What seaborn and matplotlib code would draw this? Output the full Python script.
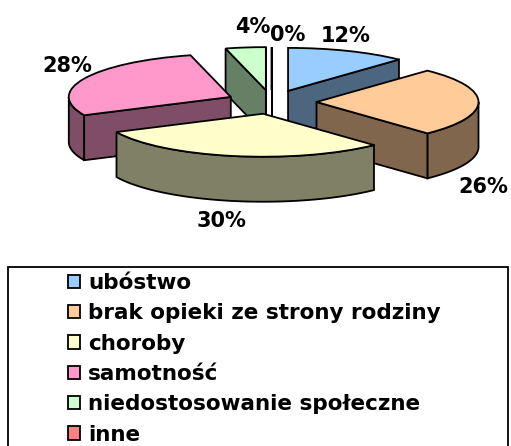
import numpy as np
import matplotlib
matplotlib.use("Agg")
import matplotlib.pyplot as plt
from matplotlib.patches import Polygon, Rectangle
import seaborn as sns

# Przyczyny trudnej sytuacji (udział procentowy)
categories = ["ubóstwo", "brak opieki ze strony rodziny", "choroby",
              "samotność", "niedostosowanie społeczne", "inne"]
values = [12, 26, 30, 28, 4, 0]
pct_labels = ["12%", "26%", "30%", "28%", "4%", "0%"]
top_colors = ["#99CCFF", "#FFCC99", "#FFFFCC", "#FF99CC", "#CCFFCC", "#FF8080"]

sns.set_style("white")
plt.rcParams["font.family"] = ["DejaVu Sans"]
plt.rcParams["text.color"] = "black"

W, H = 511, 446
fig = plt.figure(figsize=(W / 100, H / 100), dpi=100)
fig.patch.set_facecolor("white")
ax = fig.add_axes([0, 0, 1, 1])

# geometry of the tilted, exploded pie (in pixels)
R_PX = 162.0          # horizontal radius
RY_PX = 43.0          # vertical semi-axis after the tilt
CX_PX, CY_PX = 271.5, 102.0
DEPTH = 45.0 / RY_PX  # side wall height in plane units
EXPLODE = 45.0 / R_PX
EDGE_LW = 1.3

palette = sns.color_palette(top_colors)
side_palette = [tuple(0.5 * c for c in col) for col in palette]

wedges, _ = ax.pie(values, colors=palette, startangle=90, counterclock=False,
                   explode=[EXPLODE] * len(values), radius=1.0,
                   wedgeprops=dict(edgecolor="black", linewidth=EDGE_LW))
ax.set_aspect("auto")
ax.set_xlim(-CX_PX / R_PX, (W - CX_PX) / R_PX)
ax.set_ylim((CY_PX - H) / RY_PX, CY_PX / RY_PX)
ax.axis("off")


def depth_key(w):
    tm = np.deg2rad(0.5 * (w.theta1 + w.theta2))
    return w.center[1] + 0.5 * w.r * np.sin(tm)


# paint from the back slice to the front one
order = sorted(range(len(wedges)), key=lambda i: -depth_key(wedges[i]))
for rank, i in enumerate(order):
    w = wedges[i]
    cx, cy = w.center
    t1, t2 = w.theta1, w.theta2
    z = 2 + 2 * rank
    faces = []
    # outer wall: the part of the rim that faces the viewer
    for k in (-1, 0, 1):
        lo, hi = max(t1, -180 + 360 * k), min(t2, 360 * k)
        if hi > lo:
            t = np.deg2rad(np.linspace(lo, hi, 90))
            top = np.column_stack([cx + w.r * np.cos(t), cy + w.r * np.sin(t)])
            bot = top - [0, DEPTH]
            faces.append(np.vstack([top, bot[::-1]]))
    # radial cut faces
    for ang, visible in ((t1, np.cos(np.deg2rad(t1)) > 0),
                         (t2, np.cos(np.deg2rad(t2)) < 0)):
        if visible:
            a = np.deg2rad(ang)
            px, py = cx + w.r * np.cos(a), cy + w.r * np.sin(a)
            faces.append(np.array([(cx, cy), (px, py), (px, py - DEPTH),
                                   (cx, cy - DEPTH)]))
    for f in faces:
        ax.add_patch(Polygon(f, closed=True, facecolor=side_palette[i],
                             edgecolor="black", linewidth=EDGE_LW, zorder=z))
    w.set_zorder(z + 1)

# percentage labels (baseline positions in pixels)
label_px = [(346, 42), (483, 193), (221, 227), (67, 72), (253, 33), (288, 41)]
for txt, (lx, ly) in zip(pct_labels, label_px):
    fig.text(lx / W, 1 - ly / H, txt, ha="center", va="baseline",
             fontsize=15, fontweight="bold", color="black")

# legend
fig.legend(wedges, categories, loc="upper left",
           bbox_to_anchor=(68 / W, 1 - 273 / H), frameon=False,
           prop=dict(size=15.5, weight="bold"), labelcolor="black",
           handlelength=0.58, handleheight=0.58, handletextpad=0.35,
           labelspacing=0.48, borderpad=0, borderaxespad=0)
fig.add_artist(Rectangle((8 / W, -0.05), 500 / W, (H - 267) / H + 0.05,
                         transform=fig.transFigure, fill=False,
                         edgecolor="black", linewidth=1.3))

fig.savefig("out.png", dpi=100)
